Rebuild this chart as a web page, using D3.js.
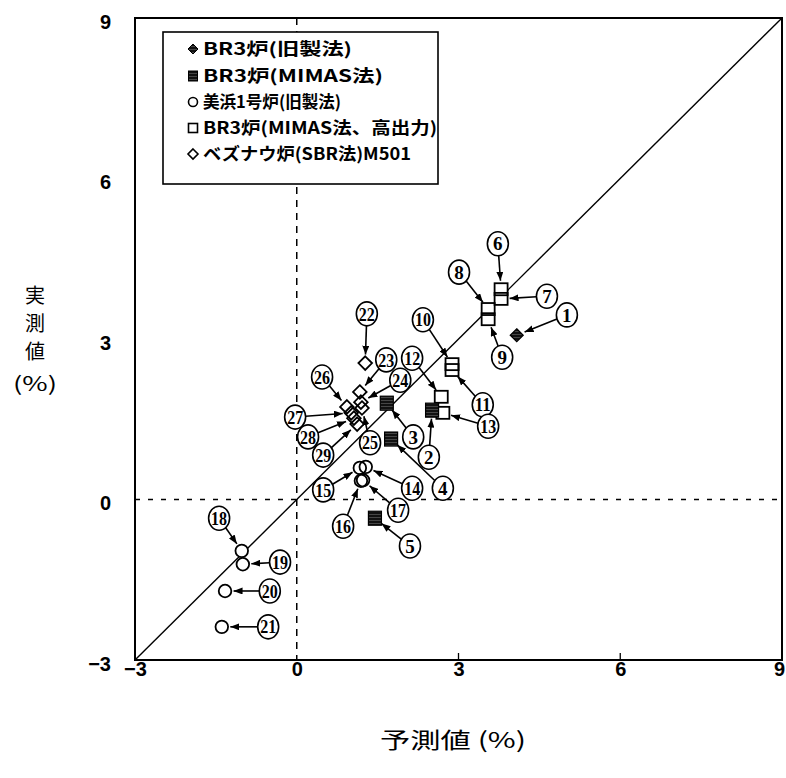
<!DOCTYPE html>
<html><head><meta charset="utf-8">
<script src="https://cdn.jsdelivr.net/npm/d3@7"></script>
<style>body{margin:0;background:#fff}svg{display:block}</style>
</head><body>
<svg id="chart" width="786" height="778"></svg>
<script>
// ---------- data ----------
const xTickValues = [-3, 0, 3, 6, 9];
const yTickValues = [-3, 0, 3, 6, 9];
const seriesNames = ["BR3炉(旧製法)", "BR3炉(MIMAS法)", "美浜1号炉(旧製法)", "BR3炉(MIMAS法、高出力)", "ベズナウ炉(SBR法)M501"];
const br3Old = [{id:1, x:4.08, y:3.07}];
const br3Mimas = [{id:2, x:2.51, y:1.67}, {id:3, x:1.67, y:1.80}, {id:4, x:1.75, y:1.13}, {id:5, x:1.45, y:-0.35}];
const mihamaOld = [{id:14, x:1.28, y:0.61}, {id:15, x:1.17, y:0.59}, {id:16, x:1.19, y:0.35}, {id:17, x:1.23, y:0.36},
                   {id:18, x:-1.02, y:-0.96}, {id:19, x:-1.00, y:-1.21}, {id:20, x:-1.33, y:-1.71}, {id:21, x:-1.39, y:-2.38}];
const br3MimasHigh = [{id:6, x:3.79, y:3.93}, {id:7, x:3.79, y:3.75}, {id:8, x:3.55, y:3.56}, {id:9, x:3.55, y:3.37},
                      {id:10, x:2.88, y:2.53}, {id:11, x:2.88, y:2.42}, {id:12, x:2.68, y:1.92}, {id:13, x:2.71, y:1.62}];
const beznau = [{id:22, x:1.27, y:2.55}, {id:23, x:1.17, y:2.01}, {id:24, x:1.19, y:1.82}, {id:25, x:1.21, y:1.71},
                {id:26, x:0.93, y:1.73}, {id:27, x:1.01, y:1.62}, {id:28, x:1.06, y:1.52}, {id:29, x:1.12, y:1.41}];
// callout (circled number) anchor, in data units
const calloutIds = [1,2,3,4,5,6,7,8,9,10,11,12,13,14,15,16,17,18,19,20,21,22,23,24,25,26,27,28,29];
const calloutX = [5.01,2.45,2.16,2.71,2.10,3.73,4.64,3.01,3.81,2.34,3.45,2.14,3.55,2.14,0.49,0.86,1.88,-1.44,-0.31,-0.50,-0.53,1.30,1.66,1.92,1.36,0.47,-0.03,0.21,0.49];
const calloutY = [3.45,0.79,1.17,0.21,-0.87,4.78,3.80,4.25,2.66,3.36,1.77,2.64,1.37,0.21,0.18,-0.50,-0.20,-0.35,-1.17,-1.71,-2.38,3.47,2.61,2.23,1.06,2.29,1.54,1.17,0.83];

// ---------- setup ----------
const svg = d3.select("#chart");
const x = d3.scaleLinear().domain([-3, 9]).range([135, 782]);
const y = d3.scaleLinear().domain([-3, 9]).range([660, 18]);
const defs = svg.append("defs");
const pat = defs.append("pattern").attr("id","hatch").attr("patternUnits","userSpaceOnUse").attr("width",3).attr("height",3);
pat.append("rect").attr("width",3).attr("height",3).attr("fill","#111");
pat.append("line").attr("x1",0).attr("x2",3).attr("y1",1.5).attr("y2",1.5).attr("stroke","#6a6a6a").attr("stroke-width",0.6);
defs.append("marker").attr("id","arr").attr("markerUnits","userSpaceOnUse").attr("markerWidth",9).attr("markerHeight",7)
  .attr("refX",9).attr("refY",3.5).attr("orient","auto")
  .append("path").attr("d","M0,0 L9,3.5 L0,7 Z").attr("fill","#000");

svg.append("rect").attr("width",786).attr("height",778).attr("fill","#fff");

// reference lines
svg.append("line").attr("x1",x(0)).attr("x2",x(0)).attr("y1",y(9)).attr("y2",y(-3))
  .attr("stroke","#000").attr("stroke-width",1.5).attr("stroke-dasharray","7,6");
svg.append("line").attr("x1",x(-3)).attr("x2",x(9)).attr("y1",y(0)).attr("y2",y(0))
  .attr("stroke","#000").attr("stroke-width",1.3).attr("stroke-dasharray","5,8");
svg.append("line").attr("x1",x(-3)).attr("x2",x(9)).attr("y1",y(-3)).attr("y2",y(9))
  .attr("stroke","#000").attr("stroke-width",1.4);

// ---------- marker shapes ----------
const diamondPath = (cx, cy, r) => `M${cx},${cy-r} L${cx+r},${cy} L${cx},${cy+r} L${cx-r},${cy} Z`;
const g = svg.append("g");
// pass 1: white fills of open markers
g.append("g").selectAll("circle").data(mihamaOld).join("circle").attr("cx",d=>x(d.x)).attr("cy",d=>y(d.y)).attr("r",6.3).attr("fill","#fff");
g.append("g").selectAll("rect").data(br3MimasHigh).join("rect").attr("x",d=>x(d.x)-6.5).attr("y",d=>y(d.y)-6).attr("width",13).attr("height",12).attr("fill","#fff");
g.append("g").selectAll("path").data(beznau).join("path").attr("d",d=>diamondPath(x(d.x),y(d.y),6.8)).attr("fill","#fff");
// pass 2: outlines
g.append("g").selectAll("circle").data(mihamaOld).join("circle").attr("cx",d=>x(d.x)).attr("cy",d=>y(d.y)).attr("r",6.3)
  .attr("fill","none").attr("stroke","#000").attr("stroke-width",1.8);
g.append("g").selectAll("rect").data(br3MimasHigh).join("rect").attr("x",d=>x(d.x)-6.5).attr("y",d=>y(d.y)-6).attr("width",13).attr("height",12)
  .attr("fill","none").attr("stroke","#000").attr("stroke-width",1.8);
g.append("g").selectAll("path").data(beznau).join("path").attr("d",d=>diamondPath(x(d.x),y(d.y),6.8))
  .attr("fill","none").attr("stroke","#000").attr("stroke-width",1.8);
// filled
g.append("g").selectAll("rect").data(br3Mimas).join("rect").attr("x",d=>x(d.x)-6.5).attr("y",d=>y(d.y)-7).attr("width",13).attr("height",14)
  .attr("fill","url(#hatch)").attr("stroke","#000").attr("stroke-width",1.2);
g.append("g").selectAll("path").data(br3Old).join("path").attr("d",d=>diamondPath(x(d.x),y(d.y),6.5))
  .attr("fill","url(#hatch)").attr("stroke","#000").attr("stroke-width",1.2);

// ---------- callouts ----------
const allPts = [...br3Old, ...br3Mimas, ...mihamaOld, ...br3MimasHigh, ...beznau];
const ptById = new Map(allPts.map(d => [d.id, d]));
const callouts = calloutIds.map((id, i) => ({id, lx: calloutX[i], ly: calloutY[i], p: ptById.get(id)}));
const ca = svg.append("g");
callouts.forEach(c => {
  const lx = x(c.lx), ly = y(c.ly), px = x(c.p.x), py = y(c.p.y);
  const dx = px - lx, dy = py - ly, L = Math.hypot(dx, dy), ux = dx / L, uy = dy / L;
  const startR = Math.hypot(10.5 * ux, 12 * uy);
  ca.append("line").attr("x1", lx + ux * startR).attr("y1", ly + uy * startR)
    .attr("x2", px - ux * 8.5).attr("y2", py - uy * 8.5)
    .attr("stroke", "#000").attr("stroke-width", 1.6).attr("marker-end", "url(#arr)");
});
const lab = ca.selectAll("g.lab").data(callouts).join("g").attr("class","lab")
  .attr("transform", d => `translate(${x(d.lx)},${y(d.ly)})`);
lab.append("ellipse").attr("rx",10.5).attr("ry",12).attr("fill","#fff").attr("stroke","#000").attr("stroke-width",1.6);
lab.append("text").attr("text-anchor","middle").attr("dy","0.35em")
  .attr("font-family","'Liberation Serif','DejaVu Serif',serif").attr("font-weight","bold")
  .attr("font-size", d => d.id < 10 ? 19 : 19)
  .each(function(d){ if (d.id >= 10) d3.select(this).attr("textLength",16).attr("lengthAdjust","spacingAndGlyphs"); })
  .text(d => d.id);

// ---------- legend ----------
const lg = svg.append("g");
lg.append("rect").attr("x",163).attr("y",32).attr("width",275).attr("height",152).attr("fill","#fff").attr("stroke","#000").attr("stroke-width",1.6);
const rowY = [49, 76, 102, 128, 154];
const textW = [149, 180, 138, 234, 208];
const symX = 193;
lg.append("path").attr("d", diamondPath(symX, rowY[0], 5)).attr("fill","url(#hatch)").attr("stroke","#000");
lg.append("rect").attr("x", symX-4.5).attr("y", rowY[1]-5).attr("width",9).attr("height",10).attr("fill","url(#hatch)").attr("stroke","#000");
lg.append("circle").attr("cx", symX).attr("cy", rowY[2]).attr("r",4.5).attr("fill","#fff").attr("stroke","#000").attr("stroke-width",1.6);
lg.append("rect").attr("x", symX-4.5).attr("y", rowY[3]-4.5).attr("width",9).attr("height",9).attr("fill","#fff").attr("stroke","#000").attr("stroke-width",1.6);
lg.append("path").attr("d", diamondPath(symX, rowY[4], 5)).attr("fill","#fff").attr("stroke","#000").attr("stroke-width",1.6);
lg.selectAll("text").data(seriesNames).join("text")
  .attr("x", 203).attr("y", (d,i) => rowY[i]).attr("dy","0.36em")
  .attr("font-family","'Noto Sans CJK JP',sans-serif").attr("font-weight","bold").attr("font-size",17)
  .attr("textLength",(d,i)=>textW[i]).attr("lengthAdjust","spacingAndGlyphs")
  .text(d => d);

// ---------- frame and axes ----------
svg.append("rect").attr("x",x(-3)).attr("y",y(9)).attr("width",x(9)-x(-3)).attr("height",y(-3)-y(9))
  .attr("fill","none").attr("stroke","#000").attr("stroke-width",2);
svg.append("g").selectAll("line").data([3,6]).join("line")
  .attr("x1",d=>x(d)).attr("x2",d=>x(d)).attr("y1",y(-3)).attr("y2",y(-3)-7).attr("stroke","#000").attr("stroke-width",1.3);

const fmt = d3.format("");
const xAxis = svg.append("g").attr("transform",`translate(0,${y(-3)})`)
  .call(d3.axisBottom(x).tickValues(xTickValues).tickSize(0).tickPadding(2).tickFormat(fmt));
const yAxis = svg.append("g").attr("transform",`translate(${x(-3)},0)`)
  .call(d3.axisLeft(y).tickValues(yTickValues).tickSize(0).tickPadding(24).tickFormat(fmt));
[xAxis, yAxis].forEach(a => {
  a.select(".domain").remove();
  a.selectAll("text").attr("font-family","'Liberation Sans',Arial,sans-serif").attr("font-weight","bold")
    .attr("font-size",20).attr("fill","#000");
});
yAxis.selectAll("text").attr("dy","0.5em");
xAxis.selectAll(".tick").filter(d => d === 9).select("text").attr("dx","-3");

// axis titles
const yt = svg.append("g").attr("font-family","'Noto Sans CJK JP',sans-serif").attr("font-size",20).attr("fill","#000");
["実","測","値"].forEach((ch,i) => yt.append("text").attr("x",35).attr("y",296 + i*28).attr("dy","0.36em").attr("text-anchor","middle").text(ch));
yt.append("text").attr("x",35).attr("y",384).attr("dy","0.36em").attr("text-anchor","middle")
  .attr("textLength",44).attr("lengthAdjust","spacingAndGlyphs").text("(%)");
svg.append("text").attr("x",453).attr("y",740).attr("dy","0.36em").attr("text-anchor","middle")
  .attr("font-family","'Noto Sans CJK JP',sans-serif").attr("font-size",22)
  .attr("textLength",146).attr("lengthAdjust","spacingAndGlyphs").text("予測値 (%)");
</script>
</body></html>
